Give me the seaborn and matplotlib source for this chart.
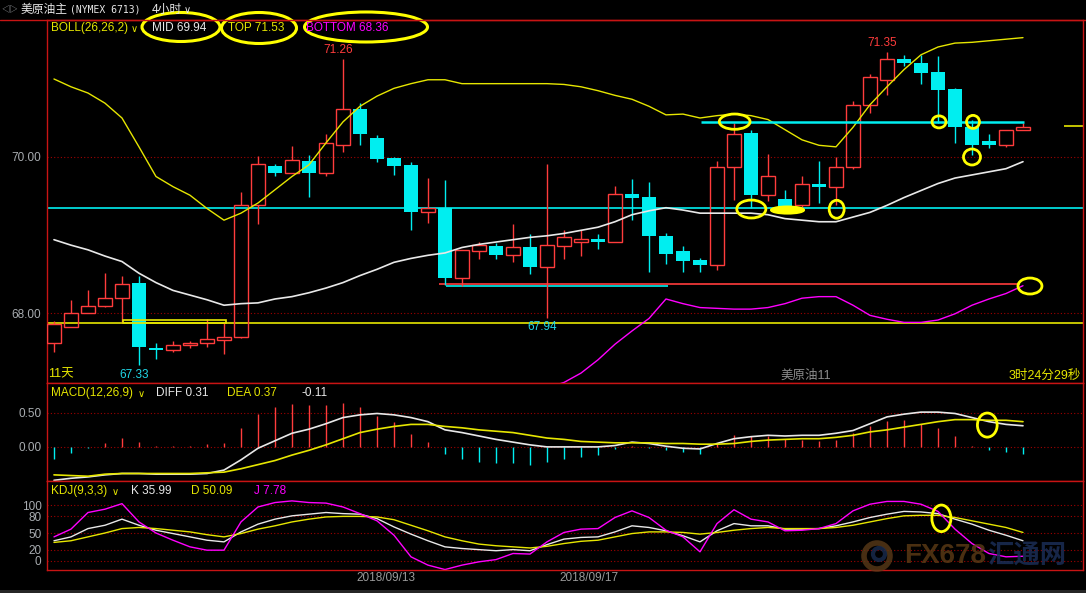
# Crude oil 4h chart with BOLL / MACD / KDJ panels (recreated)
import numpy as np
import pandas as pd
import matplotlib
matplotlib.use("Agg")
import matplotlib.pyplot as plt
from matplotlib.patches import Ellipse, Rectangle, Circle
import seaborn as sns

# 4h candles
opens = [67.62, 67.82, 68.00, 68.09, 68.19, 68.38, 67.55, 67.52, 67.59, 67.61,
         67.65, 67.69, 69.38, 69.88, 69.80, 69.95, 69.79, 70.16, 70.62, 70.24,
         69.99, 69.90, 69.29, 69.35, 68.45, 68.79, 68.86, 68.74, 68.85, 68.59,
         68.86, 68.91, 68.95, 68.91, 69.53, 69.49, 68.99, 68.79, 68.68, 68.62,
         69.87, 70.31, 69.51, 69.46, 69.38, 69.65, 69.61, 69.87, 70.67, 70.99,
         71.26, 71.21, 71.09, 70.87, 70.38, 70.20, 70.16, 70.34]
highs = [67.90, 68.17, 68.29, 68.51, 68.48, 68.48, 67.61, 67.64, 67.64, 67.92,
         67.87, 69.55, 70.01, 69.91, 70.14, 70.03, 70.30, 71.26, 70.69, 70.28,
         70.00, 69.94, 69.73, 69.71, 68.81, 68.91, 68.90, 69.14, 69.01, 69.91,
         69.06, 69.06, 69.01, 69.63, 69.72, 69.68, 69.02, 68.86, 68.70, 69.95,
         70.43, 70.35, 70.04, 69.58, 69.75, 69.95, 70.00, 70.72, 71.07, 71.35,
         71.31, 71.31, 71.29, 70.89, 70.47, 70.29, 70.34, 70.43]
lows = [67.50, 67.82, 68.00, 68.08, 67.87, 67.33, 67.41, 67.50, 67.55, 67.56,
        67.47, 67.68, 69.14, 69.75, 69.80, 69.49, 69.75, 70.07, 70.16, 69.93,
        69.77, 69.06, 69.16, 68.36, 68.35, 68.69, 68.69, 68.65, 68.50, 67.94,
        68.69, 68.73, 68.82, 68.91, 69.19, 68.52, 68.63, 68.52, 68.52, 68.55,
        69.45, 69.34, 69.44, 69.32, 69.36, 69.41, 69.38, 69.84, 70.57, 70.80,
        71.17, 70.94, 70.44, 70.18, 70.03, 70.12, 70.13, 70.34]
closes = [67.86, 68.00, 68.09, 68.19, 68.37, 67.56, 67.52, 67.59, 67.62, 67.67,
          67.69, 69.38, 69.91, 69.80, 69.96, 69.79, 70.18, 70.62, 70.29, 69.98,
          69.89, 69.29, 69.35, 68.45, 68.81, 68.87, 68.74, 68.84, 68.59, 68.87,
          68.97, 68.95, 68.91, 69.52, 69.47, 68.99, 68.76, 68.67, 68.62, 69.87,
          70.30, 69.51, 69.76, 69.36, 69.66, 69.61, 69.87, 70.67, 71.02, 71.26,
          71.21, 71.08, 70.86, 70.39, 70.16, 70.16, 70.34, 70.39]

# BOLL(26,26,2)
boll_top = [71.00, 70.90, 70.82, 70.69, 70.50, 70.13, 69.75, 69.62, 69.51, 69.34,
            69.19, 69.28, 69.41, 69.58, 69.75, 69.90, 70.18, 70.45, 70.65, 70.78,
            70.88, 70.94, 70.99, 70.99, 70.94, 70.94, 70.94, 70.94, 70.94, 70.94,
            70.93, 70.90, 70.85, 70.79, 70.74, 70.65, 70.54, 70.55, 70.50, 70.53,
            70.55, 70.53, 70.48, 70.35, 70.22, 70.15, 70.13, 70.38, 70.67, 70.90,
            71.12, 71.31, 71.41, 71.46, 71.47, 71.49, 71.51, 71.53]
boll_mid = [68.94, 68.87, 68.81, 68.73, 68.66, 68.51, 68.39, 68.29, 68.23, 68.17,
            68.10, 68.12, 68.13, 68.18, 68.21, 68.26, 68.32, 68.39, 68.48, 68.56,
            68.65, 68.70, 68.74, 68.77, 68.84, 68.88, 68.91, 68.94, 68.97, 68.99,
            69.02, 69.06, 69.10, 69.17, 69.26, 69.31, 69.35, 69.32, 69.28, 69.28,
            69.28, 69.28, 69.26, 69.21, 69.19, 69.17, 69.17, 69.23, 69.29, 69.38,
            69.48, 69.57, 69.66, 69.73, 69.77, 69.81, 69.85, 69.94]
boll_bot = [66.88, 66.84, 66.80, 66.77, 66.82, 66.89, 67.03, 66.96, 66.95, 67.00,
            67.01, 66.96, 66.85, 66.78, 66.67, 66.62, 66.46, 66.33, 66.33, 66.34,
            66.42, 66.46, 66.49, 66.55, 66.74, 66.82, 66.88, 66.94, 67.00, 67.04,
            67.11, 67.23, 67.40, 67.60, 67.77, 67.93, 68.18, 68.12, 68.07, 68.06,
            68.05, 68.05, 68.07, 68.12, 68.19, 68.21, 68.21, 68.10, 67.97, 67.92,
            67.88, 67.88, 67.91, 67.99, 68.10, 68.18, 68.25, 68.35]

# MACD(12,26,9)
macd_diff = [-0.49, -0.46, -0.44, -0.41, -0.39, -0.39, -0.40, -0.40, -0.40, -0.39,
             -0.34, -0.19, -0.02, 0.09, 0.20, 0.26, 0.34, 0.43, 0.47, 0.49,
             0.47, 0.43, 0.37, 0.25, 0.21, 0.16, 0.11, 0.07, 0.03, 0.00,
             0.00, 0.00, 0.00, 0.02, 0.07, 0.05, 0.01, -0.02, -0.03, 0.05,
             0.12, 0.15, 0.17, 0.16, 0.17, 0.17, 0.20, 0.24, 0.34, 0.44,
             0.48, 0.51, 0.51, 0.49, 0.43, 0.37, 0.33, 0.31]
macd_dea = [-0.41, -0.42, -0.43, -0.40, -0.39, -0.39, -0.39, -0.39, -0.39, -0.38,
            -0.37, -0.32, -0.26, -0.20, -0.12, -0.05, 0.03, 0.12, 0.21, 0.26,
            0.30, 0.33, 0.33, 0.30, 0.28, 0.25, 0.23, 0.21, 0.17, 0.13,
            0.11, 0.08, 0.07, 0.06, 0.06, 0.06, 0.05, 0.05, 0.04, 0.04,
            0.05, 0.08, 0.10, 0.11, 0.12, 0.12, 0.14, 0.17, 0.22, 0.25,
            0.29, 0.33, 0.37, 0.40, 0.40, 0.39, 0.39, 0.37]
macd_hist = [-0.18, -0.09, -0.01, 0.06, 0.13, 0.07, 0.02, 0.02, 0.02, 0.04,
             0.06, 0.27, 0.48, 0.58, 0.63, 0.61, 0.61, 0.64, 0.59, 0.46,
             0.36, 0.19, 0.07, -0.11, -0.18, -0.22, -0.24, -0.23, -0.27, -0.22,
             -0.18, -0.15, -0.12, -0.03, 0.01, -0.01, -0.05, -0.07, -0.10, 0.04,
             0.17, 0.16, 0.16, 0.11, 0.10, 0.08, 0.10, 0.20, 0.30, 0.38,
             0.39, 0.34, 0.27, 0.16, 0.02, -0.05, -0.08, -0.11]

# KDJ(9,3,3)
kdj_k = [36, 43, 58, 64, 75, 64, 55, 49, 43, 37, 34, 52, 66, 75, 81, 84, 87, 85, 84, 76,
         61, 48, 36, 25, 22, 20, 18, 20, 18, 29, 39, 42, 43, 52, 63, 60, 54, 45, 34, 54,
         67, 63, 63, 57, 57, 58, 63, 70, 78, 84, 89, 88, 85, 75, 66, 55, 46, 36]
kdj_d = [33, 36, 43, 50, 58, 60, 58, 55, 52, 47, 43, 49, 57, 63, 70, 75, 79, 80, 80, 79,
         74, 64, 54, 43, 36, 30, 27, 25, 23, 26, 31, 35, 37, 43, 49, 52, 52, 51, 48, 51,
         55, 58, 60, 58, 58, 58, 60, 64, 70, 76, 81, 82, 82, 78, 72, 66, 60, 51]
kdj_j = [43, 57, 87, 93, 103, 70, 50, 37, 25, 19, 19, 70, 97, 105, 108, 105, 104, 97, 85, 72,
         46, 7, -8, -16, -8, -2, 2, 13, 12, 34, 51, 57, 58, 78, 90, 78, 55, 43, 16, 67,
         92, 75, 70, 54, 55, 58, 67, 90, 102, 107, 107, 102, 89, 57, 31, 13, 7, 8]

date_labels = ["2018/09/13", "2018/09/17"]
date_pos = [19.5, 31.5]

# candles whose high / low is printed on the chart
hi_marks = [17, 49]
lo_marks = [5, 29]

RED = "#ff3c3c"
CYAN = "#00eef0"
YEL = "#e6e600"
WHITE = "#e8e8e8"
MAG = "#ff00ff"
GREY = "#a8acb0"
FRAME = "#c81414"
GRID = "#a00000"

sns.set_style("dark", {"axes.facecolor": "black", "figure.facecolor": "black",
                       "axes.edgecolor": FRAME, "grid.color": GRID})
plt.rcParams["font.family"] = ["Liberation Sans", "Noto Sans CJK SC", "DejaVu Sans"]

W, H = 1086, 593
fig = plt.figure(figsize=(W / 100, H / 100), dpi=100)
fig.patch.set_facecolor("black")


def box(top, bottom, left=47, right=1083):
    return [left / W, 1 - bottom / H, (right - left) / W, (bottom - top) / H]


ax = fig.add_axes(box(20, 383))
ax_m = fig.add_axes(box(383, 481), sharex=ax)
ax_k = fig.add_axes(box(481, 570), sharex=ax)

df = pd.DataFrame({"open": opens, "high": highs, "low": lows, "close": closes})
df["i"] = np.arange(len(df))
up = df[df.close >= df.open]
dn = df[df.close < df.open]

# candles
ax.vlines(up.i, up.close, up.high, color=RED, lw=1, zorder=3)
ax.vlines(up.i, up.low, up.open, color=RED, lw=1, zorder=3)
ax.bar(up.i, up.close - up.open, bottom=up.open, width=0.84,
       facecolor="none", edgecolor=RED, linewidth=1, zorder=3)
ax.vlines(dn.i, dn.low, dn.high, color=CYAN, lw=1, zorder=3)
ax.bar(dn.i, dn.close - dn.open, bottom=dn.open, width=0.84,
       color=CYAN, linewidth=0, zorder=3)

# bollinger bands
sns.lineplot(x=df.i, y=boll_top, ax=ax, color=YEL, lw=1, estimator=None, zorder=4)
sns.lineplot(x=df.i, y=boll_mid, ax=ax, color=WHITE, lw=1.2, estimator=None, zorder=4)
sns.lineplot(x=df.i, y=boll_bot, ax=ax, color=MAG, lw=1, estimator=None, zorder=4)

# drawn support / resistance lines
ax.axhline(69.35, color=CYAN, lw=1.2, zorder=2)
ax.axhline(67.87, color=YEL, lw=1.2, zorder=2)
ax.add_patch(Rectangle((4.06, 67.87), 6.05, 0.04, fill=False, ec=YEL, lw=1.2, zorder=5))
ax.hlines(68.372, 22.65, 56.8, color=RED, lw=1.2, zorder=2)
ax.hlines(68.346, 23.06, 36.1, color=CYAN, lw=1.2, zorder=2)
ax.hlines(70.45, 38.06, 57.06, color=CYAN, lw=1.8, zorder=5)
ax.hlines(70.40, 59.4, 60.6, color=YEL, lw=1.2, zorder=2)

for i in hi_marks:
    ax.annotate(f"{highs[i]:.2f}", (i, highs[i]), xytext=(-3.5, 6.5), textcoords="offset points",
                ha="center", va="center", color=RED, fontsize=8.5)
for i in lo_marks:
    ax.annotate(f"{lows[i]:.2f}", (i, lows[i]), xytext=(-3.5, -7), textcoords="offset points",
                ha="center", va="center", color="#20d8e8", fontsize=8.5)

# yellow circles drawn on the chart
main_marks = [(40.04, 70.453, 1.81, 0.196), (41.02, 69.333, 1.71, 0.23),
              (46.04, 69.33, 0.88, 0.23), (52.06, 70.45, 0.82, 0.154),
              (54.06, 70.45, 0.76, 0.167), (54.0, 70.0, 1.0, 0.205),
              (57.41, 68.346, 1.41, 0.205)]
for x, y, w, h in main_marks:
    ax.add_patch(Ellipse((x, y), w, h, fill=False, ec="#ffff00", lw=2, zorder=10))
ax.add_patch(Ellipse((43.15, 69.32), 1.94, 0.09, fc="#ffff00", ec="#ffff00", lw=1.5, zorder=10))

ax.set_ylim(67.103, 71.756)
ax.set_yticks([68, 70])
ax.set_yticklabels(["68.00", "70.00"])

# MACD panel
hist = np.array(macd_hist)
pos = df.i[hist >= 0]
neg = df.i[hist < 0]
ax_m.vlines(pos, 0, hist[pos], color=RED, lw=1)
ax_m.vlines(neg, 0, hist[neg], color=CYAN, lw=1)
sns.lineplot(x=df.i, y=macd_diff, ax=ax_m, color=WHITE, lw=1.2, estimator=None)
sns.lineplot(x=df.i, y=macd_dea, ax=ax_m, color=YEL, lw=1.2, estimator=None)
ax_m.add_patch(Ellipse((54.9, 0.32), 1.16, 0.353, fill=False, ec="#ffff00", lw=2, zorder=10))
ax_m.set_ylim(-0.50, 0.937)
ax_m.set_yticks([0, 0.5])
ax_m.set_yticklabels(["0.00", "0.50"])

# KDJ panel
sns.lineplot(x=df.i, y=kdj_k, ax=ax_k, color=WHITE, lw=1, estimator=None)
sns.lineplot(x=df.i, y=kdj_d, ax=ax_k, color=YEL, lw=1, estimator=None)
sns.lineplot(x=df.i, y=kdj_j, ax=ax_k, color=MAG, lw=1, estimator=None)
ax_k.add_patch(Ellipse((52.2, 76.5), 1.12, 48, fill=False, ec="#ffff00", lw=2, zorder=10))
ax_k.set_ylim(-16.8, 143.9)
ax_k.set_yticks([0, 20, 50, 80, 100])
ax_k.set_yticklabels(["0", "20", "50", "80", "100"])
for d, p in zip(date_labels, date_pos):
    ax_k.text(p, -0.02, d, transform=ax_k.get_xaxis_transform(), ha="center", va="top",
              color="#9a9a9a", fontsize=8.5)

for a in (ax, ax_m, ax_k):
    a.set_xlim(-0.41, 60.53)
    a.set_facecolor("black")
    a.grid(False)
    for t in a.get_yticks():
        a.axhline(t, color=GRID, lw=0.8, ls=(0, (1, 2)), zorder=1)
    a.tick_params(axis="y", length=0, pad=4, labelsize=8.5, labelcolor=GREY)
    a.tick_params(axis="x", bottom=False, labelbottom=False)
    a.set_xlabel("")
    a.set_ylabel("")
    for s in a.spines.values():
        s.set_color(FRAME)
        s.set_linewidth(1)

# overlay in pixel coordinates for header texts and marks
ov = fig.add_axes([0, 0, 1, 1], zorder=20)
ov.set_xlim(0, W)
ov.set_ylim(H, 0)
ov.axis("off")
ov.patch.set_alpha(0)
ov.plot([0, W], [20, 20], color=FRAME, lw=1)
ov.add_patch(Rectangle((0, 590), W, 3, color="#262626", lw=0))


def txt(x, y, s, c, size=8.5, **kw):
    ov.text(x, y, s, color=c, fontsize=size, va="center", ha=kw.pop("ha", "left"), **kw)


txt(1, 9, "◁▷", GREY, 6)
txt(21, 9.5, "美原油主", WHITE, 8.5)
txt(70, 9.5, "(NYMEX 6713)", WHITE, 7, family=["DejaVu Sans Mono"])
txt(152, 9.5, "4小时", WHITE, 8.5)
txt(184, 10, "∨", WHITE, 7, family=["DejaVu Sans"])

txt(51, 28, "BOLL(26,26,2)", YEL)
txt(131, 29, "∨", YEL, 7, family=["DejaVu Sans"])
txt(152, 28, "MID 69.94", WHITE)
txt(228, 28, "TOP 71.53", YEL)
txt(306, 28, "BOTTOM 68.36", MAG)
for cx, cy, w, h in [(181, 27, 78, 29), (259, 28, 75, 31), (366, 27, 123, 30)]:
    ov.add_patch(Ellipse((cx, cy), w, h, fill=False, ec="#ffff00", lw=2.2))

txt(51, 393, "MACD(12,26,9)", YEL)
txt(138, 394, "∨", YEL, 7, family=["DejaVu Sans"])
txt(156, 393, "DIFF 0.31", WHITE)
txt(227, 393, "DEA 0.37", YEL)
txt(301, 393, "-0.11", WHITE)

txt(51, 491, "KDJ(9,3,3)", YEL)
txt(112, 492, "∨", YEL, 7, family=["DejaVu Sans"])
txt(131, 491, "K 35.99", WHITE)
txt(191, 491, "D 50.09", YEL)
txt(254, 491, "J 7.78", MAG)

txt(48, 374, "11天", YEL, 9)
txt(780, 376, "美原油11", "#8c8c8c", 9)
txt(1081, 376, "3时24分29秒", YEL, 9, ha="right")

# watermark
ov.add_patch(Circle((877, 556), 13, fill=False, ec="#5a3a18", lw=4, alpha=0.8))
ov.add_patch(Circle((879, 554), 6, fill=False, ec="#1a2d50", lw=3, alpha=0.8))
txt(904, 556, "FX678", "#5e3c16", 20, weight="bold", alpha=0.8)
txt(987, 556, "汇通网", "#1a2d55", 19, weight="bold", alpha=0.85)

fig.savefig("out.png", dpi=100, facecolor="black")
